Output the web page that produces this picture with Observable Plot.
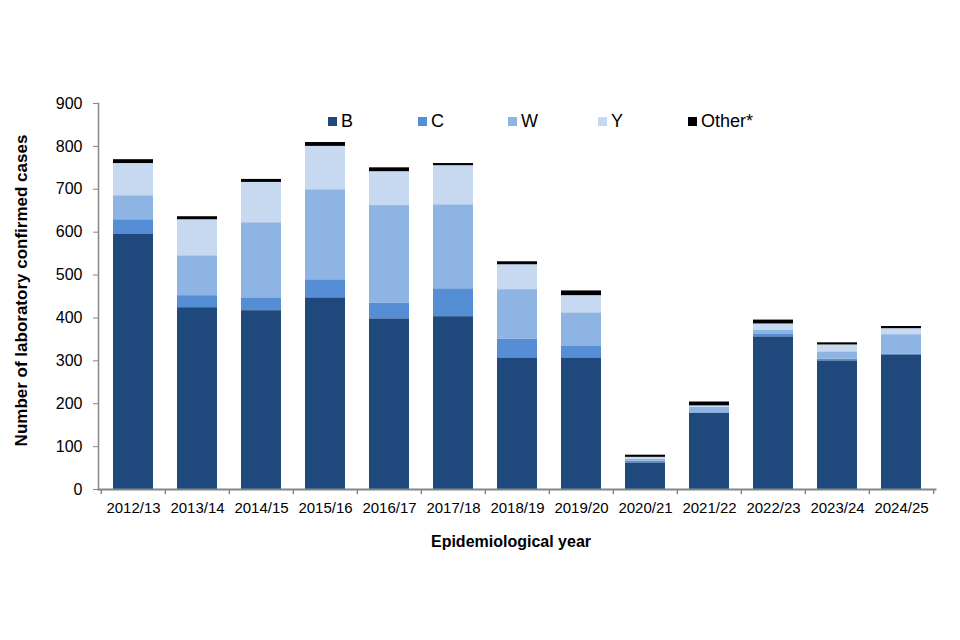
<!DOCTYPE html>
<html>
<head>
<meta charset="utf-8">
<script src="https://cdn.jsdelivr.net/npm/d3@7"></script>
<script src="https://cdn.jsdelivr.net/npm/@observablehq/plot@0.6"></script>
<style>
  body { margin: 0; background: #fff; font-family: "Liberation Sans", Arial, sans-serif; }
  #wrap { position: relative; width: 960px; height: 640px; }
  #legend { position: absolute; left: 328px; top: 111px; display: flex; font-size: 18px; color: #000; }
  #legend .item { display: flex; align-items: center; width: 90px; }
  #legend .sw { width: 9px; height: 9px; margin-right: 4px; }
</style>
</head>
<body>
<div id="wrap"><div id="legend"></div></div>
<script>
const years = ["2012/13","2013/14","2014/15","2015/16","2016/17","2017/18","2018/19","2019/20","2020/21","2021/22","2022/23","2023/24","2024/25"];
const B     = [596, 424, 417, 447, 398, 403, 307, 307, 62, 178, 356, 300, 314];
const C     = [33, 28, 30, 42, 37, 65, 44, 28, 4, 1, 7, 4, 2];
const W     = [56, 93, 175, 210, 227, 196, 115, 77, 5, 13, 9, 17, 45];
const Y     = [75, 84, 94, 101, 79, 91, 58, 40, 4, 3, 14, 16, 14];
const Other = [9, 7, 7, 9, 9, 5, 7, 11, 5, 9, 9, 5, 5];
const groups = ["B", "C", "W", "Y", "Other*"];
const colors = ["#1f497d", "#558ed5", "#8eb4e3", "#c6d9f1", "#000000"];
const yTicks = [0, 100, 200, 300, 400, 500, 600, 700, 800, 900];
const xTitle = "Epidemiological year";
const yTitle = "Number of laboratory confirmed cases";

const series = [B, C, W, Y, Other];
const rows = [];
years.forEach((yr, i) => {
  series.forEach((s, k) => rows.push({year: yr, group: groups[k], value: s[i]}));
});

const width = 960, height = 640, mL = 98, mR = 25, mT = 103, mB = 151;
const step = (width - mL - mR) / years.length;
const axisGray = "#868686";

const chart = Plot.plot({
  width, height,
  marginLeft: mL, marginRight: mR, marginTop: mT, marginBottom: mB,
  style: {fontFamily: "'Liberation Sans', Arial, sans-serif", fontSize: "16px", color: "#000", background: "#fff"},
  x: {domain: years, paddingInner: 0.38, paddingOuter: 0.19, label: null},
  y: {domain: [0, 900], label: null},
  color: {domain: groups, range: colors},
  marks: [
    Plot.barY(rows, {x: "year", y: "value", fill: "group", z: "group", order: groups}),
    Plot.frame({anchor: "left", stroke: axisGray, strokeWidth: 1.5}),
    Plot.frame({anchor: "bottom", stroke: axisGray, strokeWidth: 2}),
    Plot.ruleX(years, {x: d => d, y1: 0, y2: 0, insetBottom: -5, dx: -step / 2, stroke: axisGray, strokeWidth: 1.5}),
    Plot.ruleX([years[years.length - 1]], {x: d => d, y1: 0, y2: 0, insetBottom: -5, dx: step / 2, stroke: axisGray, strokeWidth: 1.5}),
    Plot.axisY({ticks: yTicks, tickSize: 5, tickPadding: 11, stroke: axisGray, fill: "#000", fontSize: 16, label: null}),
    Plot.axisX({tickSize: 0, tickPadding: 13, fill: "#000", fontSize: 15, label: null}),
    Plot.text([yTitle], {frameAnchor: "left", textAnchor: "middle", dx: -77, dy: -6, rotate: -90, fontWeight: "bold", fontSize: 17, fill: "#000"}),
    Plot.text([xTitle], {frameAnchor: "bottom", textAnchor: "middle", dy: 57, dx: -6, fontWeight: "bold", fontSize: 16, fill: "#000"})
  ]
});
const wrap = document.getElementById("wrap");
wrap.insertBefore(chart, wrap.firstChild);

const legend = document.getElementById("legend");
groups.forEach((g, k) => {
  const it = document.createElement("div");
  it.className = "item";
  const sw = document.createElement("span");
  sw.className = "sw";
  sw.style.background = colors[k];
  const t = document.createElement("span");
  t.textContent = g;
  it.appendChild(sw); it.appendChild(t);
  legend.appendChild(it);
});
</script>
</body>
</html>
